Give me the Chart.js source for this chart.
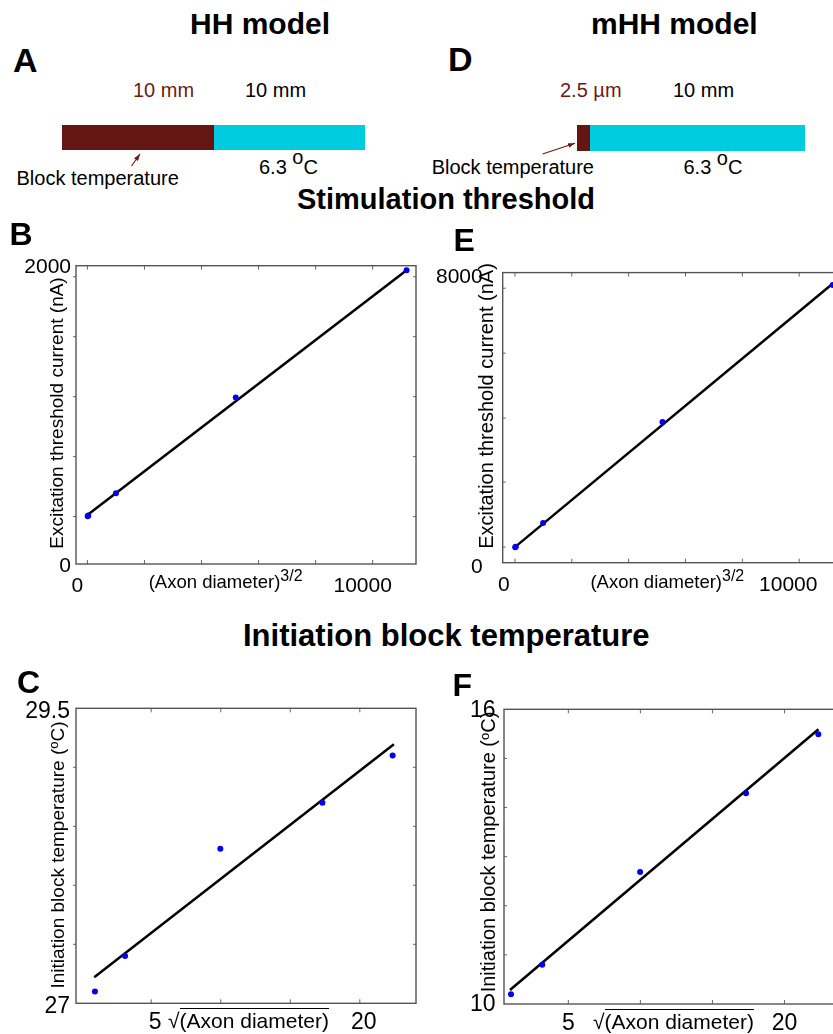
<!DOCTYPE html>
<html>
<head>
<meta charset="utf-8">
<script src="https://cdn.jsdelivr.net/npm/chart.js@4.4.1/dist/chart.umd.min.js"></script>
<style>
html, body { margin: 0; padding: 0; overflow: hidden; background: #fff; }
#fig { position: relative; width: 833px; height: 1034px; overflow: hidden; font-family: 'Liberation Sans', Arial, sans-serif; color: #000; }
.t { position: absolute; line-height: 1; white-space: nowrap; }
.b { font-weight: bold; }
.brown { color: #6b1a16; }
.rot { position: absolute; line-height: 1; white-space: nowrap; transform: translate(-50%, -50%) rotate(-90deg); }
.bar { position: absolute; }
canvas { position: absolute; }
</style>
</head>
<body>
<div id="fig">
  <!-- schematics -->
  <div class="bar" style="left:62px;top:125px;width:152px;height:25px;background:#641612"></div>
  <div class="bar" style="left:214px;top:125px;width:151px;height:25px;background:#00cce0"></div>
  <div class="bar" style="left:577px;top:125px;width:13px;height:25.5px;background:#641612"></div>
  <div class="bar" style="left:590px;top:125px;width:215px;height:25.5px;background:#00cce0"></div>
  <svg width="833" height="1034" style="position:absolute;left:0;top:0">
    <defs>
      <marker id="ah" markerWidth="7" markerHeight="5" refX="7" refY="2.5" orient="auto" markerUnits="userSpaceOnUse">
        <path d="M0,0 L7,2.5 L0,5 z" fill="#6b1a16"/>
      </marker>
    </defs>
    <line x1="131.5" y1="166" x2="140" y2="154" stroke="#6b1a16" stroke-width="1.2" marker-end="url(#ah)"/>
    <line x1="542.5" y1="154" x2="575" y2="143.3" stroke="#6b1a16" stroke-width="1.2" marker-end="url(#ah)"/>
  </svg>

  <canvas id="cB" width="420" height="370" style="left:0;top:240px"></canvas>
  <canvas id="cE" width="440" height="370" style="left:420px;top:240px"></canvas>
  <canvas id="cC" width="420" height="354" style="left:0;top:680px"></canvas>
  <canvas id="cF" width="440" height="354" style="left:420px;top:680px"></canvas>

  <div class="t b" style="left:190px;top:9px;font-size:30px">HH model</div>
  <div class="t b" style="left:591px;top:9px;font-size:30px">mHH model</div>
  <div class="t b" style="left:13px;top:42.6px;font-size:34px">A</div>
  <div class="t b" style="left:448px;top:42.3px;font-size:34px">D</div>

  <div class="t brown" style="left:133px;top:80px;font-size:20px">10 mm</div>
  <div class="t" style="left:245px;top:80px;font-size:20px">10 mm</div>
  <div class="t" style="left:259px;top:156.7px;font-size:20px">6.3 <span style="position:relative;top:-9.4px">o</span>C</div>
  <div class="t" style="left:16.5px;top:168px;font-size:20px">Block temperature</div>

  <div class="t brown" style="left:560px;top:80px;font-size:20px">2.5 µm</div>
  <div class="t" style="left:673px;top:80px;font-size:20px">10 mm</div>
  <div class="t" style="left:431.7px;top:156.7px;font-size:20px">Block temperature</div>
  <div class="t" style="left:683.5px;top:157px;font-size:20px">6.3 <span style="position:relative;top:-9px">o</span>C</div>

  <div class="t b" style="left:297px;top:185px;font-size:29px">Stimulation threshold</div>
  <div class="t b" style="left:9.5px;top:217.5px;font-size:32px">B</div>
  <div class="t b" style="left:453.6px;top:224px;font-size:32px">E</div>

  <div class="t b" style="left:243px;top:620.3px;font-size:31px">Initiation block temperature</div>
  <div class="t b" style="left:17px;top:666.3px;font-size:32px">C</div>
  <div class="t b" style="left:452.6px;top:668.8px;font-size:32px">F</div>

  <!-- axis titles -->
  <div class="rot" style="left:55.5px;top:412.5px;font-size:19px">Excitation threshold current (nA)</div>
  <div class="rot" style="left:486.3px;top:405.7px;font-size:20px">Excitation threshold current (nA)</div>
  <div class="rot" style="left:57px;top:855px;font-size:19px">Initiation block temperature (<span style="font-size:13px;position:relative;top:-6px">o</span>C)</div>
  <div class="rot" style="left:488px;top:851.7px;font-size:20px">Initiation block temperature (<span style="font-size:13px;position:relative;top:-6px">o</span>C)</div>

  <div class="t" style="left:148.7px;top:572.6px;font-size:18.5px">(Axon diameter)<span style="font-size:16px;position:relative;top:-6.6px">3/2</span></div>
  <div class="t" style="left:590.4px;top:572.6px;font-size:18.5px">(Axon diameter)<span style="font-size:16px;position:relative;top:-6.6px">3/2</span></div>
  <div class="t" style="left:168px;top:1009.5px;font-size:21px">√<span style="border-top:1.3px solid #000">(Axon diameter)</span></div>
  <div class="t" style="left:593px;top:1010.5px;font-size:21px">√<span style="border-top:1.3px solid #000">(Axon diameter)</span></div>
</div>

<script>
var FONT = "'Liberation Sans', Arial, sans-serif";

// B: HH model, threshold vs (axon diameter)^3/2
var hhDiam32 = [10, 30, 1000, 5200, 11190];
var hhThreshold = [320, 325, 474, 1117, 1970];
var hhThresholdFit = [[0, 328], [11190, 1970]];

// E: mHH model, threshold vs (axon diameter)^3/2
var mhhDiam32 = [10, 30, 990, 5190, 11180];
var mhhThreshold = [428, 440, 1094, 3880, 7660];
var mhhThresholdFit = [[0, 430], [11183, 7700]];

// C: HH model, block temperature vs sqrt(axon diameter)
var hhSqrtDiam = [0.95, 3.12, 9.97, 17.31, 22.36];
var hhBlockTemp = [27.10, 27.40, 28.31, 28.70, 29.10];
var hhBlockFit = [[0.90, 27.22], [22.45, 29.195]];

// F: mHH model, block temperature vs sqrt(axon diameter)
var mhhSqrtDiam = [1.02, 3.19, 9.98, 17.33, 22.35];
var mhhBlockTemp = [10.20, 10.80, 12.69, 14.29, 15.49];
var mhhBlockFit = [[0.95, 10.285], [22.36, 15.595]];

// tick labels and tick marks
var threshXTicks = [0, 10000];
var threshXLabels = ['0', '10000'];
var threshXMarks = [0, 2000, 4000, 6000, 8000, 10000];
var hhYTicks = [0, 2000];
var hhYLabels = ['0', '2000'];
var hhYMarks = [318, 720, 1122, 1524, 1926];
var mhhYTicks = [0, 8000];
var mhhYLabels = ['0', '8000'];
var mhhYMarks = [430, 2223, 3988, 5778, 7570];
var tempXTicks = [5, 20];
var tempXLabels = ['5', '20'];
var tempXMarks = [5, 10, 15, 20];
var hhTempYTicks = [27, 29.5];
var hhTempYLabels = ['27', '29.5'];
var hhTempYMarks = [27.5, 28, 28.5, 29];
var mhhTempYTicks = [10, 16];
var mhhTempYLabels = ['10', '16'];
var mhhTempYMarks = [11, 12, 13, 14, 15];

var framePlugin = {
  id: 'frame',
  beforeDatasetsDraw: function (chart, args, o) {
    var ctx = chart.ctx, a = chart.chartArea, x = chart.scales.x, y = chart.scales.y;
    ctx.save();
    ctx.strokeStyle = '#666';
    ctx.lineWidth = 1;
    ctx.beginPath();
    o.xMarks.forEach(function (v) {
      var px = x.getPixelForValue(v);
      ctx.moveTo(px, a.top); ctx.lineTo(px, a.top + 4);
      ctx.moveTo(px, a.bottom); ctx.lineTo(px, a.bottom - 4);
    });
    o.yMarks.forEach(function (v) {
      var py = y.getPixelForValue(v);
      var d = o.leftOut ? -3 : 3;
      ctx.moveTo(a.left, py); ctx.lineTo(a.left + d, py);
      ctx.moveTo(a.right, py); ctx.lineTo(a.right - 3, py);
    });
    ctx.stroke();
    ctx.strokeStyle = '#555';
    ctx.lineWidth = 1.4;
    ctx.strokeRect(a.left, a.top, a.right - a.left, a.bottom - a.top);
    ctx.restore();
  }
};

function pts(xs, ys) {
  return xs.map(function (x, i) { return { x: x, y: ys[i] }; });
}

function makePanel(id, p) {
  new Chart(document.getElementById(id), {
    type: 'scatter',
    data: {
      datasets: [
        { data: pts(p.xs, p.ys), pointRadius: 3, pointBackgroundColor: '#0000ee', pointBorderWidth: 0, order: 0 },
        { data: p.fit.map(function (f) { return { x: f[0], y: f[1] }; }), showLine: true,
          borderColor: '#000', borderWidth: 2.5, pointRadius: 0, order: 1 }
      ]
    },
    options: {
      responsive: false,
      animation: false,
      events: [],
      layout: { padding: p.pad },
      plugins: {
        legend: { display: false },
        tooltip: { enabled: false },
        frame: { xMarks: p.xMarks, yMarks: p.yMarks, leftOut: p.leftOut }
      },
      scales: {
        x: {
          type: 'linear', min: p.xMin, max: p.xMax,
          grid: { display: false, drawTicks: false }, border: { display: false },
          afterBuildTicks: function (s) { s.ticks = p.xTicks.map(function (v) { return { value: v }; }); },
          afterFit: function (s) { s.height = p.xH; },
          ticks: { autoSkip: false, maxRotation: 0, color: '#000', padding: p.xPad, labelOffset: p.xOff,
                   font: { family: FONT, size: p.fs },
                   callback: function (v, i) { return p.xLabels[i]; } }
        },
        y: {
          type: 'linear', min: p.yMin, max: p.yMax,
          grid: { display: false, drawTicks: false }, border: { display: false },
          afterBuildTicks: function (s) { s.ticks = p.yTicks.map(function (v) { return { value: v }; }); },
          afterFit: function (s) { s.width = p.yW; },
          ticks: { autoSkip: false, color: '#000', padding: p.yPad, labelOffset: p.yOff,
                   font: { family: FONT, size: p.fs },
                   callback: function (v, i) { return p.yLabels[i]; } }
        }
      }
    },
    plugins: [framePlugin]
  });
}

makePanel('cB', {
  xs: hhDiam32, ys: hhThreshold, fit: hhThresholdFit,
  xMin: -400, xMax: 11520, yMin: 0, yMax: 2000,
  xTicks: threshXTicks, xLabels: threshXLabels, xMarks: threshXMarks,
  yTicks: hhYTicks, yLabels: hhYLabels, yMarks: hhYMarks, leftOut: true,
  pad: { left: 6, top: 25.7, right: 4, bottom: 6 }, yW: 70, xH: 40,
  fs: 21, xPad: 10, xOff: -10, yPad: 5, yOff: 2
});

makePanel('cE', {
  xs: mhhDiam32, ys: mhhThreshold, fit: mhhThresholdFit,
  xMin: -430, xMax: 11540, yMin: 0, yMax: 8000,
  xTicks: threshXTicks, xLabels: threshXLabels, xMarks: threshXMarks,
  yTicks: mhhYTicks, yLabels: mhhYLabels, yMarks: mhhYMarks, leftOut: false,
  pad: { left: 2.7, top: 25, right: 17, bottom: 7.3 }, yW: 80, xH: 40,
  fs: 21, xPad: 10, xOff: -11, yPad: 20, yOff: 5
});

makePanel('cC', {
  xs: hhSqrtDiam, ys: hhBlockTemp, fit: hhBlockFit,
  xMin: -0.41, xMax: 24.04, yMin: 27, yMax: 29.5,
  xTicks: tempXTicks, xLabels: tempXLabels, xMarks: tempXMarks,
  yTicks: hhTempYTicks, yLabels: hhTempYLabels, yMarks: hhTempYMarks, leftOut: true,
  pad: { left: 6, top: 28.3, right: 1.7, bottom: 0.7 }, yW: 70, xH: 30,
  fs: 23, xPad: 6, xOff: 4, yPad: 6, yOff: 3
});

makePanel('cF', {
  xs: mhhSqrtDiam, ys: mhhBlockTemp, fit: mhhBlockFit,
  xMin: 0.535, xMax: 24.27, yMin: 10, yMax: 16,
  xTicks: tempXTicks, xLabels: tempXLabels, xMarks: tempXMarks,
  yTicks: mhhTempYTicks, yLabels: mhhTempYLabels, yMarks: mhhTempYMarks, leftOut: false,
  pad: { left: 4, top: 29.3, right: 14, bottom: 0 }, yW: 80, xH: 30,
  fs: 23, xPad: 6, xOff: 0, yPad: 8.5, yOff: 1
});
</script>
</body>
</html>
